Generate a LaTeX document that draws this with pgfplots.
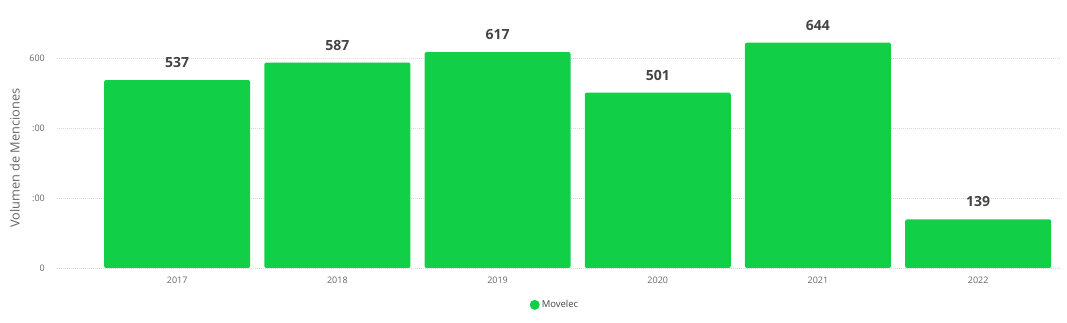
\documentclass[border=0pt]{standalone}
\usepackage{pgfplots}
\pgfplotsset{compat=1.18}
\usepackage{fontspec}
\setmainfont{Open Sans}
\definecolor{bargreen}{RGB}{17,208,71}
\definecolor{labgray}{RGB}{68,68,68}
\definecolor{tickgray}{RGB}{102,102,102}
\definecolor{gridgray}{RGB}{218,218,218}
\begin{document}
\begin{tikzpicture}
\path[use as bounding box] (0,0) rectangle (1067pt,323pt);
\begin{axis}[
  at={(57pt,55pt)}, anchor=south west,
  scale only axis, width=1004pt, height=238pt,
  xmin=-0.75, xmax=5.517, ymin=0, ymax=680,
  ybar, bar width=146pt,
  xtick={0,1,2,3,4,5},
  xticklabels={2017,2018,2019,2020,2021,2022},
  ytick={0,200,400,600},
  yticklabels={0,{:00},{:00},600},
  /pgf/number format/assume math mode=true,
  axis line style={draw=none},
  major tick length=0pt,
  ymajorgrids,
  grid style={gridgray, dash pattern=on 1pt off 1pt, line width=0.6pt},
  xticklabel style={font=\fontsize{9}{10}\selectfont, text=tickgray, inner sep=0pt, anchor=north, yshift=-9pt},
  yticklabel style={font=\fontsize{9}{10}\selectfont, text=tickgray, inner sep=0pt, anchor=east, xshift=-12pt},
  ylabel={Volumen de Menciones},
  ylabel style={at={(axis description cs:-0.042,0.462)}, anchor=center, font=\fontsize{12.8}{14}\selectfont, text=tickgray},
  nodes near coords,
  every node near coord/.append style={font=\fontsize{14}{16}\selectfont\bfseries, text=labgray, anchor=base, inner sep=0pt, yshift=12.5pt},
  legend style={at={(0.496,-0.155)}, anchor=center, draw=none, fill=none, font=\fontsize{9.5}{11}\selectfont, text=labgray, legend cell align=left},
  legend image code/.code={\fill[bargreen] (0.15cm,0cm) circle (5pt);},
]
\addplot[fill=bargreen, draw=none, rounded corners=2pt] coordinates {(0,537) (1,587) (2,617) (3,501) (4,644) (5,139)};
\addlegendentry{Movelec}
\end{axis}
\end{tikzpicture}
\end{document}
